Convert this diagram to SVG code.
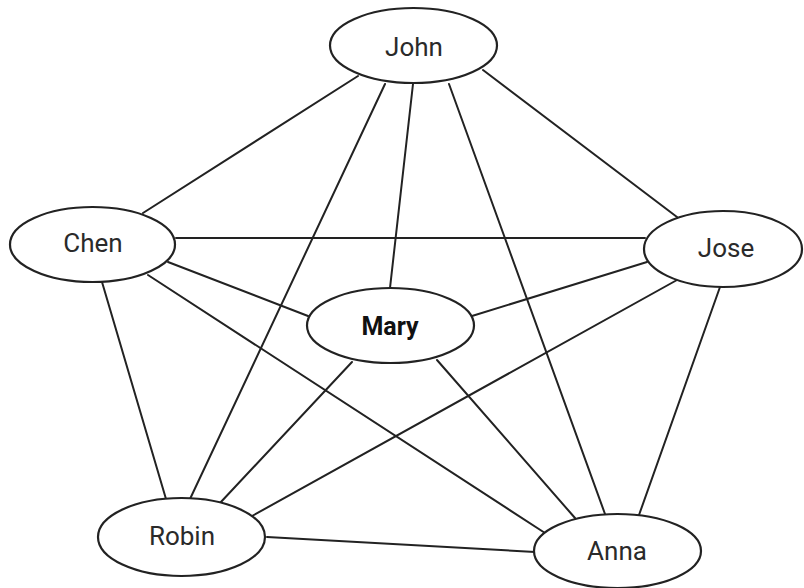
<svg xmlns="http://www.w3.org/2000/svg" width="804" height="588" viewBox="0 0 804 588">
<style>
.edge{stroke:#222;stroke-width:2;fill:none;stroke-linecap:round}
.node{fill:#fff;stroke:#222;stroke-width:2.2}
.lbl{font-family:Roboto,"Liberation Sans",sans-serif;font-size:26px;fill:#2a2a2a;text-anchor:middle}
.bold{font-weight:bold;font-size:25px;fill:#111}
</style>
<rect width="804" height="588" fill="#fff"/>
<g id="connectors">
<line class="edge" x1="358" y1="76" x2="143" y2="213"/>
<line class="edge" x1="385" y1="84" x2="190" y2="499"/>
<line class="edge" x1="413" y1="84" x2="390" y2="288"/>
<line class="edge" x1="449" y1="84" x2="605" y2="514"/>
<line class="edge" x1="483" y1="70" x2="677" y2="217"/>
<line class="edge" x1="176" y1="238" x2="645" y2="238"/>
<line class="edge" x1="168" y1="262" x2="308" y2="316"/>
<line class="edge" x1="148" y1="275" x2="545" y2="533"/>
<line class="edge" x1="102" y1="282" x2="166" y2="499"/>
<line class="edge" x1="647" y1="262" x2="472" y2="316"/>
<line class="edge" x1="677" y1="280" x2="252" y2="516"/>
<line class="edge" x1="720" y1="287" x2="639" y2="515"/>
<line class="edge" x1="352" y1="362" x2="220" y2="503"/>
<line class="edge" x1="437" y1="360" x2="575" y2="518"/>
<line class="edge" x1="267" y1="537" x2="535" y2="552"/>
</g>
<g id="john"><ellipse class="node" cx="413.5" cy="45.5" rx="83.5" ry="37.5"/><text class="lbl" x="414" y="56">John</text></g>
<g id="chen"><ellipse class="node" cx="92.5" cy="244.5" rx="82.5" ry="37.5"/><text class="lbl" x="93" y="252">Chen</text></g>
<g id="jose"><ellipse class="node" cx="723" cy="249" rx="79" ry="38"/><text class="lbl" x="726" y="257">Jose</text></g>
<g id="mary"><ellipse class="node" cx="390.5" cy="325.5" rx="83.5" ry="37.5"/><text class="lbl bold" x="390" y="335">Mary</text></g>
<g id="robin"><ellipse class="node" cx="181.5" cy="537" rx="83.5" ry="39"/><text class="lbl" x="182" y="545">Robin</text></g>
<g id="anna"><ellipse class="node" cx="617.5" cy="551" rx="83.5" ry="37"/><text class="lbl" x="617" y="560">Anna</text></g>
</svg>
